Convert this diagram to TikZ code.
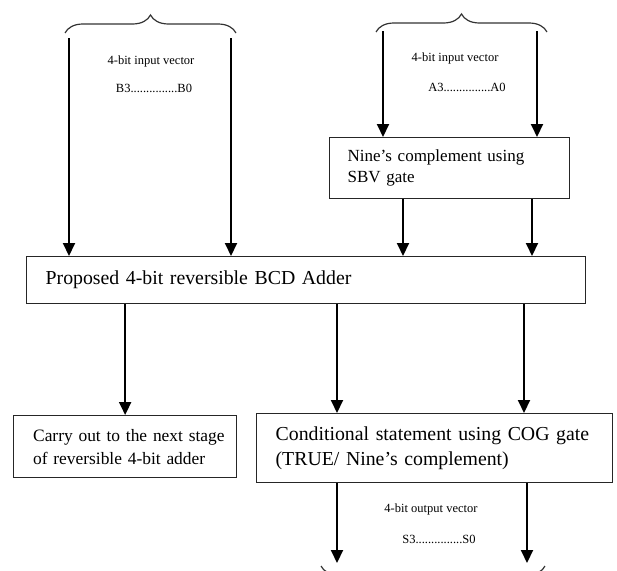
\documentclass[tikz,border=0pt]{standalone}
\usepackage{fontspec}
\setmainfont{Liberation Serif}
\usetikzlibrary{arrows.meta,decorations.pathreplacing}
\begin{document}
\begin{tikzpicture}[x=1pt,y=-1pt,
  box/.style={draw=black!85, line width=1.3pt, inner ysep=0pt, anchor=north west},
  arr/.style={line width=2pt, -{Triangle[length=13pt,width=12pt]}},
  brc/.style={decorate, decoration={brace, amplitude=18pt}, line width=1.2pt, draw=black!80},
  small/.style={font=\fontsize{12.5}{14}\selectfont, inner sep=0pt}]
\useasboundingbox (0,0) rectangle (617,570);
\clip (0,0) rectangle (617,570);
% boxes
\node[box, minimum width=559pt, minimum height=47pt, text width=521pt, inner xsep=19pt, align=left,
  font=\fontsize{19.8}{24}\selectfont] (big) at (26,256) {Proposed 4-bit reversible BCD Adder};
\node[box, minimum width=240pt, minimum height=61pt, text width=204pt, inner xsep=18pt, align=left,
  font=\fontsize{17}{21}\selectfont] (nine) at (329,137) {Nine’s complement using\\SBV gate};
\node[box, minimum width=223pt, minimum height=62pt, text width=184pt, inner xsep=19.5pt, align=center,
  font=\fontsize{17.4}{23}\selectfont] (carry) at (13,415)
  {\makebox[184pt][s]{Carry out to the next stage}\\\makebox[184pt][s]{of reversible 4-bit adder}};
\node[box, minimum width=356pt, minimum height=69pt, text width=318pt, inner xsep=19pt, align=left,
  font=\fontsize{19.8}{25}\selectfont] (cog) at (256,413) {Conditional statement using COG gate\\(TRUE/ Nine’s complement)};
% labels
\node[small] (lb1) at (151,61) {4-bit input vector};
\node[small] (lb2) at (154,88) {B3...............B0};
\node[small] (la1) at (455,58) {4-bit input vector};
\node[small] (la2) at (467,87) {A3...............A0};
\node[small] (ls1) at (431,509) {4-bit output vector};
\node[small] (ls2) at (439,539) {S3...............S0};
% braces
\draw[brc] (65,33) -- (236,33);
\draw[brc] (376,32) -- (547,32);
\draw[brc] (545,566) -- (321,566);
% input arrows B
\coordinate (b3) at (69,38);
\coordinate (b0) at (231,38);
\draw[arr] (b3) -- (b3 |- big.north);
\draw[arr] (b0) -- (b0 |- big.north);
% input arrows A
\coordinate (a3) at (383,31);
\coordinate (a0) at (537,31);
\draw[arr] (a3) -- (a3 |- nine.north);
\draw[arr] (a0) -- (a0 |- nine.north);
% nine to big
\coordinate (n1) at ([xshift=74pt]nine.south west);
\coordinate (n2) at ([xshift=203pt]nine.south west);
\draw[arr] (n1) -- (n1 |- big.north);
\draw[arr] (n2) -- (n2 |- big.north);
% big to carry / cog
\draw[arr] (carry.north |- big.south) -- (carry.north);
\coordinate (c1) at ([xshift=81pt]cog.north west);
\coordinate (c2) at ([xshift=268pt]cog.north west);
\draw[arr] (c1 |- big.south) -- (c1);
\draw[arr] (c2 |- big.south) -- (c2);
% outputs
\coordinate (s3) at (337,563);
\coordinate (s0) at (527,563);
\draw[arr] (s3 |- cog.south) -- (s3);
\draw[arr] (s0 |- cog.south) -- (s0);
\end{tikzpicture}
\end{document}
